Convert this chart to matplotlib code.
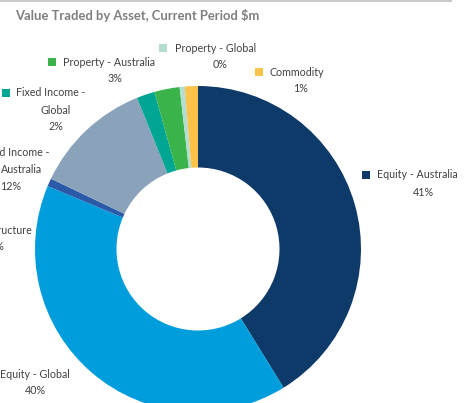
import matplotlib
matplotlib.use("Agg")
import matplotlib.pyplot as plt

# ---- data ----
categories = ["Equity - Australia", "Equity - Global", "Infrastructure",
              "Fixed Income - Australia", "Fixed Income - Global",
              "Property - Australia", "Property - Global", "Commodity"]
shares = [41.2, 40.1, 0.8, 11.8, 1.8, 2.5, 0.5, 1.3]
pct_labels = ["41%", "40%", "1%", "12%", "2%", "3%", "0%", "1%"]
colors = ["#0e3a6a", "#009ddc", "#2b5aa8", "#8ba3ba", "#00a693",
          "#3ab44a", "#b2ddd0", "#fdc24a"]
title = "Value Traded by Asset, Current Period $m"

W, H = 475, 403
fig = plt.figure(figsize=(W / 100, H / 100), dpi=100)
ax = fig.add_axes([0, 0, 1, 1])

def py(y):
    return H - y

ax.pie(shares, colors=colors, startangle=90, counterclock=False,
       radius=163, center=(198, py(249)),
       wedgeprops=dict(width=81.5, edgecolor="none", linewidth=0))
ax.set_xlim(0, W)
ax.set_ylim(0, H)
ax.set_aspect("auto")
ax.axis("off")

FONT = ["Lato", "DejaVu Sans"]
TXT = "#404040"
FS = 7.7

# top border line
ax.plot([0, 452], [py(0.6), py(0.6)], color="#bfbfbf", lw=1.2, solid_capstyle="butt")

ax.text(15, py(16), title, fontsize=9.4, fontweight="bold", color="#7f7f7f",
        family=FONT, ha="left", va="center")

# label layout: (category index, lines [(text, x, y, ha)], marker (x, y) or None)
label_layout = [
    (6, [("Property - Global", 175, 48.5, "left"), (None, 220, 64.5, "center")], (163, 47.5)),
    (5, [("Property - Australia", 63, 62, "left"), (None, 115, 78, "center")], (52, 61.5)),
    (7, [("Commodity", 269, 72.5, "left"), (None, 301, 89, "center")], (259, 72)),
    (0, [("Equity - Australia", 377, 175, "left"), (None, 423, 192, "center")], (366, 174.5)),
    (4, [("Fixed Income -", 16, 93, "left"), ("Global", 55.5, 110, "center"),
         (None, 55.5, 126, "center")], (5.5, 92.5)),
    (3, [("Fixed Income -", 49, 153, "right"), ("Australia", 42, 169.5, "right"),
         (None, 21, 186, "right")], None),
    (2, [("Infrastructure", 32, 231, "right"), (None, 4, 247, "right")], None),
    (1, [("Equity - Global", 70, 374.5, "right"), (None, 35, 391, "center")], None),
]

for idx, lines, mk in label_layout:
    for text, x, y, ha in lines:
        s = pct_labels[idx] if text is None else text
        ax.text(x, py(y), s, fontsize=FS, color=TXT, family=FONT,
                ha=ha, va="center")
    if mk is not None:
        ax.scatter([mk[0]], [py(mk[1])], marker="s", s=26, color=colors[idx],
                   linewidths=0)

fig.savefig("out.png", dpi=100)
